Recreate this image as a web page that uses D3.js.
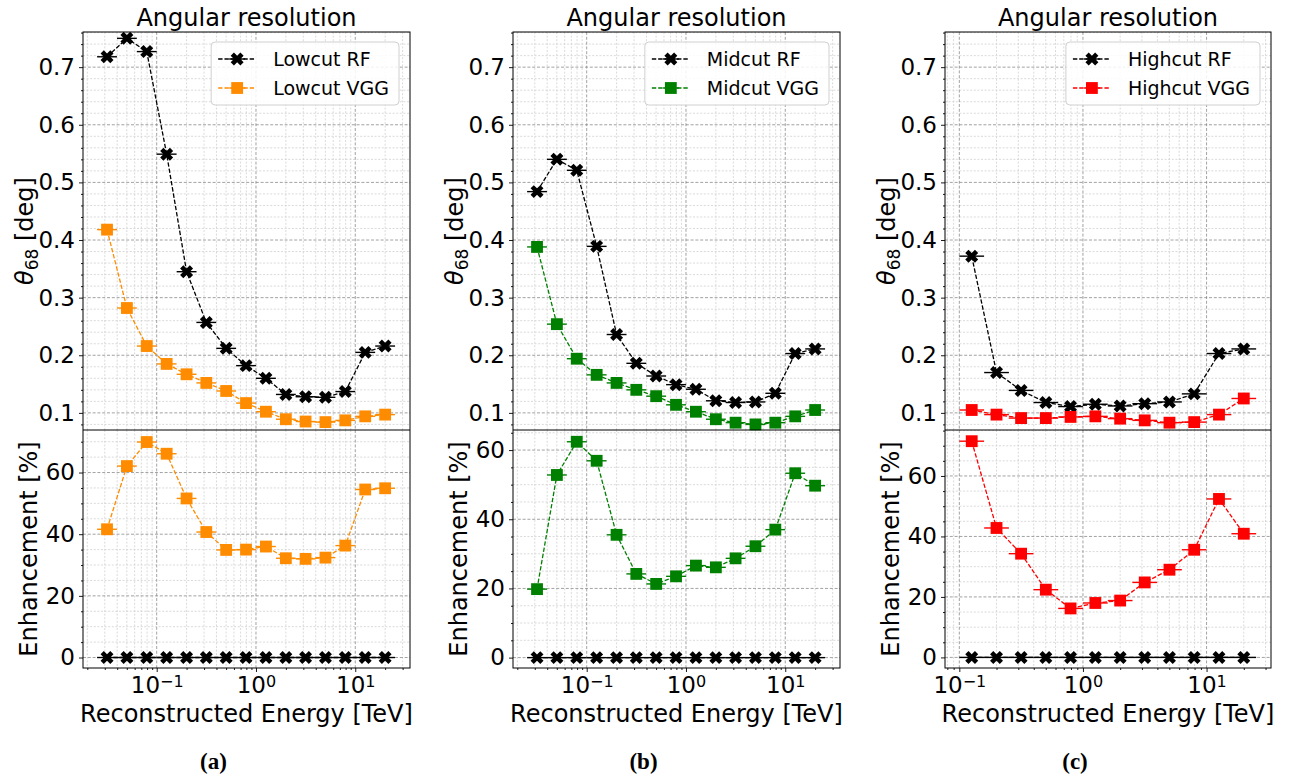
<!DOCTYPE html>
<html>
<head>
<meta charset="utf-8">
<script src="https://cdn.jsdelivr.net/npm/d3@7/dist/d3.min.js"></script>
<style>
  body { margin: 0; background: #fff; }
  text { font-family: 'DejaVu Sans', sans-serif; fill: #000; }
</style>
</head>
<body>
<svg id="chart" width="1290" height="778"></svg>
<script>
// Angular resolution (theta68) and enhancement of VGG over RF, three cut levels

// energy bin centres [TeV]
const energies = [0.0316, 0.0501, 0.0794, 0.126, 0.2, 0.316, 0.501, 0.794, 1.26, 2.0, 3.16, 5.01, 7.94, 12.6, 20.0];
const energiesHigh = [0.126, 0.2, 0.316, 0.501, 0.794, 1.26, 2.0, 3.16, 5.01, 7.94, 12.6, 20.0];

// theta68 [deg]
const lowcutRF   = [0.718, 0.750, 0.727, 0.549, 0.345, 0.257, 0.212, 0.182, 0.160, 0.132, 0.128, 0.127, 0.137, 0.205, 0.216];
const lowcutVGG  = [0.418, 0.282, 0.216, 0.185, 0.167, 0.152, 0.138, 0.117, 0.102, 0.089, 0.085, 0.084, 0.087, 0.094, 0.097];
const midcutRF   = [0.484, 0.540, 0.521, 0.389, 0.236, 0.186, 0.164, 0.149, 0.141, 0.121, 0.118, 0.119, 0.134, 0.203, 0.211];
const midcutVGG  = [0.388, 0.254, 0.194, 0.166, 0.152, 0.140, 0.129, 0.114, 0.102, 0.089, 0.083, 0.080, 0.083, 0.094, 0.105];
const highcutRF  = [0.372, 0.170, 0.139, 0.118, 0.111, 0.115, 0.112, 0.116, 0.119, 0.133, 0.203, 0.211];
const highcutVGG = [0.105, 0.097, 0.091, 0.091, 0.093, 0.094, 0.090, 0.087, 0.083, 0.084, 0.097, 0.125];

// enhancement [%]
const lowcutEnh    = [41.6, 62.1, 69.9, 66.1, 51.6, 40.7, 34.9, 35.0, 36.0, 32.2, 32.0, 32.4, 36.3, 54.5, 54.9];
const midcutEnh    = [19.8, 52.8, 62.4, 56.9, 35.5, 24.2, 21.3, 23.5, 26.6, 26.1, 28.7, 32.2, 37.0, 53.3, 49.7];
const highcutEnh   = [71.5, 42.8, 34.3, 22.4, 16.2, 18.0, 18.8, 24.8, 29.0, 35.6, 52.4, 40.9];
const lowcutRFEnh  = [0, 0, 0, 0, 0, 0, 0, 0, 0, 0, 0, 0, 0, 0, 0];
const midcutRFEnh  = [0, 0, 0, 0, 0, 0, 0, 0, 0, 0, 0, 0, 0, 0, 0];
const highcutRFEnh = [0, 0, 0, 0, 0, 0, 0, 0, 0, 0, 0, 0];

const thetaTicks = [0.1, 0.2, 0.3, 0.4, 0.5, 0.6, 0.7];
const enhTicks = [0, 20, 40, 60];
const xMajorTicks = [0.1, 1, 10];
const xTickExp = ['\u22121', '0', '1'];

const panels = [
    {name: 'Lowcut', e: energies, rf: lowcutRF, vgg: lowcutVGG, enh: lowcutEnh, rfEnh: lowcutRFEnh,
     color: '#ff8c00', left: 83, right: 410, xDomain: [0.0181, 35.6], enhDomain: [-3.4, 73.8], caption: '(a)'},
    {name: 'Midcut', e: energies, rf: midcutRF, vgg: midcutVGG, enh: midcutEnh, rfEnh: midcutRFEnh,
     color: '#008000', left: 513, right: 840, xDomain: [0.0181, 35.6], enhDomain: [-3.0, 65.8], caption: '(b)'},
    {name: 'Highcut', e: energiesHigh, rf: highcutRF, vgg: highcutVGG, enh: highcutEnh, rfEnh: highcutRFEnh,
     color: '#ff0000', left: 945, right: 1271, xDomain: [0.0766, 33.2], enhDomain: [-3.5, 75.2], caption: '(c)'}
];

const TOP = 32, MID = 430, BOT = 668;
const thetaDomain = [0.0703, 0.761];
const binLo = Math.pow(10, -0.1), binHi = Math.pow(10, 0.1);

const svg = d3.select('#chart');
const xMarker = d3.symbol(d3.symbolCross).size(105)();
const sqMarker = d3.symbol(d3.symbolSquare).size(140)();

function drawGrid(g, x, y, xMinor, yMinor, yMajor, y0, y1, x0, x1) {
    // minor first, major on top
    g.selectAll(null).data(xMinor).join('line')
        .attr('x1', d => x(d)).attr('x2', d => x(d)).attr('y1', y0).attr('y2', y1)
        .attr('stroke', '#d0d0d0').attr('stroke-width', 0.8).attr('stroke-dasharray', '2,1.6');
    g.selectAll(null).data(yMinor).join('line')
        .attr('x1', x0).attr('x2', x1).attr('y1', d => y(d)).attr('y2', d => y(d))
        .attr('stroke', '#d0d0d0').attr('stroke-width', 0.8).attr('stroke-dasharray', '2,1.6');
    g.selectAll(null).data(xMajorTicks.filter(d => x.domain()[0] < d && d < x.domain()[1])).join('line')
        .attr('x1', d => x(d)).attr('x2', d => x(d)).attr('y1', y0).attr('y2', y1)
        .attr('stroke', '#8a8a8a').attr('stroke-width', 0.8).attr('stroke-dasharray', '3,1.8');
    g.selectAll(null).data(yMajor).join('line')
        .attr('x1', x0).attr('x2', x1).attr('y1', d => y(d)).attr('y2', d => y(d))
        .attr('stroke', '#8a8a8a').attr('stroke-width', 0.8).attr('stroke-dasharray', '3,1.8');
}

function drawSeries(g, x, y, xs, ys, color, marker) {
    const pts = xs.map((e, i) => [e, ys[i]]);
    g.append('path')
        .datum(pts)
        .attr('d', d3.line().x(d => x(d[0])).y(d => y(d[1])))
        .attr('fill', 'none')
        .attr('stroke', color)
        .attr('stroke-width', 1.3)
        .attr('stroke-dasharray', '4.4,1.9');
    // horizontal error bars = bin width
    g.selectAll(null).data(pts).join('line')
        .attr('x1', d => x(d[0] * binLo)).attr('x2', d => x(d[0] * binHi))
        .attr('y1', d => y(d[1])).attr('y2', d => y(d[1]))
        .attr('stroke', color).attr('stroke-width', 1.4);
    g.selectAll(null).data(pts).join('path')
        .attr('d', marker === 'x' ? xMarker : sqMarker)
        .attr('transform', d => `translate(${x(d[0])},${y(d[1])})` + (marker === 'x' ? ' rotate(45)' : ''))
        .attr('fill', color);
}

function styleAxis(sel, fontSize) {
    sel.select('.domain').remove();
    sel.selectAll('.tick line').attr('stroke', '#000').attr('stroke-width', 0.9);
    sel.selectAll('.tick text').style('font-size', fontSize + 'px').style('font-family', "'DejaVu Sans', sans-serif").attr('fill', '#000');
}

panels.forEach(p => {
    const g = svg.append('g');
    const x = d3.scaleLog().domain(p.xDomain).range([p.left, p.right]);
    const yT = d3.scaleLinear().domain(thetaDomain).range([MID, TOP]);
    const yB = d3.scaleLinear().domain(p.enhDomain).range([BOT, MID]);

    const xMinor = [];
    [0.01, 0.1, 1, 10].forEach(dec => {
        for (let m = 2; m < 10; m++) xMinor.push(m * dec);
    });
    const xMinorIn = xMinor.filter(d => d > p.xDomain[0] && d < p.xDomain[1]);
    const thetaMinor = d3.range(4, 39).filter(i => i % 5 !== 0).map(i => i * 0.02);
    const enhMinor = d3.range(0, 16).filter(i => i % 4 !== 0).map(i => i * 5)
        .filter(d => d < p.enhDomain[1]);

    drawGrid(g.append('g'), x, yT, xMinorIn, thetaMinor, thetaTicks, TOP, MID, p.left, p.right);
    drawGrid(g.append('g'), x, yB, xMinorIn, enhMinor, enhTicks, MID, BOT, p.left, p.right);

    // top: theta68
    drawSeries(g, x, yT, p.e, p.rf, '#000', 'x');
    drawSeries(g, x, yT, p.e, p.vgg, p.color, 'sq');
    // bottom: enhancement
    drawSeries(g, x, yB, p.e, p.rfEnh, '#000', 'x');
    drawSeries(g, x, yB, p.e, p.enh, p.color, 'sq');

    // spines
    g.append('rect')
        .attr('x', p.left).attr('y', TOP)
        .attr('width', p.right - p.left).attr('height', BOT - TOP)
        .attr('fill', 'none').attr('stroke', '#000').attr('stroke-width', 1);
    g.append('line')
        .attr('x1', p.left).attr('x2', p.right).attr('y1', MID).attr('y2', MID)
        .attr('stroke', '#000').attr('stroke-width', 1);

    // y axes
    const axT = g.append('g').attr('transform', `translate(${p.left},0)`)
        .call(d3.axisLeft(yT).tickValues(thetaTicks).tickSize(4).tickPadding(4).tickFormat(d3.format('.1f')));
    styleAxis(axT, 23);
    const axTm = g.append('g').attr('transform', `translate(${p.left},0)`)
        .call(d3.axisLeft(yT).tickValues(thetaMinor.filter(d => d > thetaDomain[0])).tickSize(2).tickFormat(''));
    styleAxis(axTm, 23);
    const axB = g.append('g').attr('transform', `translate(${p.left},0)`)
        .call(d3.axisLeft(yB).tickValues(enhTicks).tickSize(4).tickPadding(4).tickFormat(d3.format('d')));
    styleAxis(axB, 23);
    const axBm = g.append('g').attr('transform', `translate(${p.left},0)`)
        .call(d3.axisLeft(yB).tickValues(enhMinor).tickSize(2).tickFormat(''));
    styleAxis(axBm, 23);

    // x axis (log, 10^n labels)
    const majors = xMajorTicks.filter(d => d > p.xDomain[0] && d < p.xDomain[1]);
    const axX = g.append('g').attr('transform', `translate(0,${BOT})`)
        .call(d3.axisBottom(x).tickValues(majors).tickSize(4).tickFormat(''));
    styleAxis(axX, 23);
    axX.selectAll('.tick text').remove();
    axX.selectAll('.tick').append('text')
        .attr('y', 25).attr('text-anchor', 'middle')
        .style('font-size', '23px')
        .each(function (d) {
            const t = d3.select(this);
            t.append('tspan').text('10');
            t.append('tspan').attr('dy', -6).style('font-size', '16px').text(xTickExp[xMajorTicks.indexOf(d)]);
        });
    const axXm = g.append('g').attr('transform', `translate(0,${BOT})`)
        .call(d3.axisBottom(x).tickValues(xMinorIn).tickSize(2).tickFormat(''));
    styleAxis(axXm, 23);

    const cx = (p.left + p.right) / 2;
    g.append('text').attr('x', cx).attr('y', 26).attr('text-anchor', 'middle')
        .style('font-size', '24px').text('Angular resolution');
    g.append('text').attr('x', cx).attr('y', 722).attr('text-anchor', 'middle')
        .style('font-size', '24px').text('Reconstructed Energy [TeV]');

    // y labels
    const lt = g.append('text')
        .attr('transform', `translate(${p.left - 50},${(TOP + MID) / 2}) rotate(-90)`)
        .attr('text-anchor', 'middle').style('font-size', '24px');
    lt.append('tspan').style('font-style', 'italic').text('\u03b8');
    lt.append('tspan').attr('dy', 5).style('font-size', '17px').text('68');
    lt.append('tspan').attr('dy', -5).text(' [deg]');
    g.append('text')
        .attr('transform', `translate(${p.left - 46},${(MID + BOT) / 2}) rotate(-90)`)
        .attr('text-anchor', 'middle').style('font-size', '24px').text('Enhancement [%]');

    // legend
    const lg = g.append('g');
    const box = lg.append('rect').attr('rx', 4).attr('fill', '#fff').attr('fill-opacity', 0.85)
        .attr('stroke', '#d0d0d0').attr('stroke-width', 1);
    const entries = [
        {label: `${p.name} RF`, color: '#000', marker: 'x'},
        {label: `${p.name} VGG`, color: p.color, marker: 'sq'}
    ];
    let maxW = 0;
    const rows = entries.map((en, i) => {
        const ry = 59 + i * 29;
        const row = lg.append('g');
        row.append('line').attr('class', 'dash').attr('y1', ry).attr('y2', ry)
            .attr('stroke', en.color).attr('stroke-width', 1.3).attr('stroke-dasharray', '4.4,1.9');
        row.append('line').attr('class', 'err').attr('y1', ry).attr('y2', ry)
            .attr('stroke', en.color).attr('stroke-width', 1.4);
        row.append('path').attr('class', 'mk').attr('d', en.marker === 'x' ? xMarker : sqMarker)
            .attr('fill', en.color);
        const t = row.append('text').attr('y', ry + 7).style('font-size', '19px').text(en.label);
        maxW = Math.max(maxW, t.node().getComputedTextLength());
        return {row, ry, en};
    });
    const bw = maxW + 72;
    const bx = p.right - 11 - bw;
    box.attr('x', bx).attr('y', 42).attr('width', bw).attr('height', 63);
    rows.forEach(r => {
        r.row.select('.dash').attr('x1', bx + 7).attr('x2', bx + 44);
        r.row.select('.err').attr('x1', bx + 18).attr('x2', bx + 34);
        r.row.select('.mk').attr('transform', `translate(${bx + 26},${r.ry})` + (r.en.marker === 'x' ? ' rotate(45)' : ''));
        r.row.select('text').attr('x', bx + 62);
    });

    // sub-figure caption
    g.append('text').attr('x', cx - 33).attr('y', 769).attr('text-anchor', 'middle')
        .style('font-family', "'Liberation Serif', serif").style('font-weight', 'bold')
        .style('font-size', '23px').text(p.caption);
});
</script>
</body>
</html>
